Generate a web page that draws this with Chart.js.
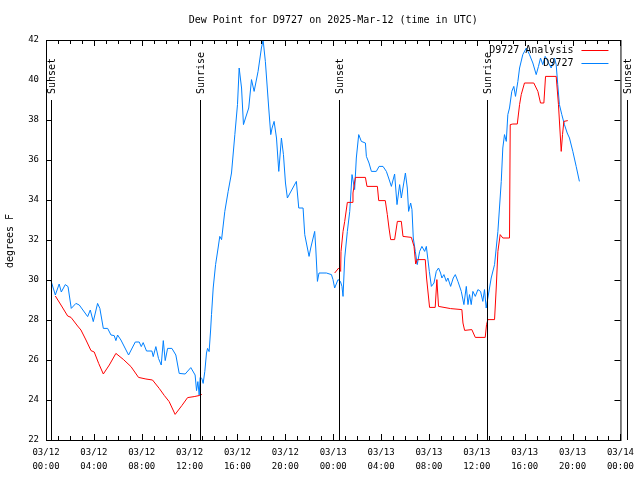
<!DOCTYPE html>
<html>
<head>
<meta charset="utf-8">
<script src="https://cdn.jsdelivr.net/npm/chart.js@4.4.1/dist/chart.umd.min.js"></script>
<style>
  html, body { margin: 0; padding: 0; background: #fff; }
  canvas { display: block; }
</style>
</head>
<body>
<canvas id="dewChart" width="640" height="480"></canvas>
<script>
'use strict';

// ===== DATA (hours since 03/12 00:00 UTC, degrees F) =====
const TITLE = 'Dew Point for D9727 on 2025-Mar-12 (time in UTC)';

const analysisHours = [
  0.78, 1.25, 1.81, 2.09, 2.64, 2.92, 3.34, 3.76, 4.03, 4.4, 4.79, 5.29, 5.84, 6.46,
  7.1, 7.73, 8.35, 8.9, 9.46, 9.88, 10.29, 10.79, 11.35, 11.83, 12.38, 12.85, 13.02,
  18,
  24.12, 24.46, 24.62, 24.65, 24.82, 24.96, 25.18, 25.57, 25.65, 25.85, 26.69, 26.82,
  27.69, 27.8, 28.35, 28.52, 28.66, 28.8, 29.13, 29.36, 29.69, 29.83, 30.53, 30.75,
  30.89, 31.02, 31.69, 31.8, 32.05, 32.52, 32.66, 32.8, 33.81, 34.75, 34.84, 34.98,
  35.58, 35.87, 36.7, 36.81, 36.92, 37.48, 37.62, 37.76, 37.95, 38.17, 38.73, 38.79,
  39.01, 39.38, 39.57, 39.71, 39.98, 40.76, 41.1, 41.32, 41.6, 41.74, 42.63, 42.82,
  43.05, 43.16, 43.27, 43.6
];
const analysisValues = [
  29.2, 28.75, 28.2, 28.13, 27.7, 27.5, 27.0, 26.47, 26.4, 25.83, 25.3, 25.75, 26.33, 26.03,
  25.67, 25.13, 25.05, 25.0, 24.58, 24.23, 23.92, 23.28, 23.72, 24.12, 24.17, 24.23, 24.28,
  null,
  30.35, 30.6, 30.43, 31.43, 32.43, 32.93, 33.88, 33.88, 34.35, 35.13, 35.13, 34.68,
  34.68, 33.97, 33.97, 33.27, 32.6, 32.02, 32.02, 32.93, 32.93, 32.18, 32.13, 31.68,
  30.8, 31.02, 31.02, 30.1, 28.63, 28.63, 30.02, 28.68, 28.57, 28.52, 27.85, 27.48,
  27.52, 27.13, 27.13, 27.77, 28.02, 28.02, 29.6, 31.43, 32.27, 32.1, 32.1, 37.77,
  37.8, 37.8, 38.77, 39.27, 39.85, 39.85, 39.43, 38.85, 38.85, 40.18, 40.18, 38.77,
  36.43, 37.27, 37.93, 37.97
];

const stationHours = [
  0.4, 0.78, 1.1, 1.28, 1.61, 1.84, 2.11, 2.5, 2.78, 3.48, 3.7, 3.95, 4.31, 4.5, 4.79,
  5.15, 5.43, 5.7, 5.84, 5.98, 6.26, 6.9, 7.46, 7.79, 7.96, 8.12, 8.4, 8.85, 8.96, 9.18,
  9.4, 9.63, 9.8, 9.96, 10.16, 10.52, 10.85, 11.13, 11.63, 12.1, 12.46, 12.58, 12.69,
  12.8, 12.88, 13.02, 13.13, 13.27, 13.41, 13.5, 13.63, 13.75, 13.83, 13.97, 14.17,
  14.38, 14.52, 14.67, 14.94, 15.22, 15.5, 15.78, 16.0, 16.14, 16.34, 16.5, 16.67,
  16.94, 17.17, 17.39, 17.72, 18.0, 18.14, 18.33, 18.61, 18.78, 18.89, 19.06, 19.26,
  19.45, 19.67, 19.84, 20.01, 20.17, 20.92, 21.12, 21.48, 21.62, 21.98, 22.12, 22.45,
  22.54, 22.68, 22.81, 23.43, 23.85, 23.98, 24.12, 24.4, 24.6, 24.73, 24.82, 24.96,
  25.18, 25.38, 25.57, 25.79, 25.93, 26.13, 26.35, 26.69, 26.77, 26.99, 27.19, 27.6,
  27.83, 28.16, 28.44, 28.63, 28.86, 29.13, 29.33, 29.55, 29.69, 30.03, 30.19, 30.3,
  30.47, 30.58, 30.69, 30.86, 31.02, 31.22, 31.41, 31.64, 31.78, 31.91, 32.03, 32.2,
  32.42, 32.61, 32.8, 32.97, 33.08, 33.25, 33.45, 33.58, 33.81, 34.03, 34.2, 34.42,
  34.7, 34.92, 35.12, 35.26, 35.39, 35.53, 35.67, 35.87, 36.09, 36.31, 36.5, 36.64,
  36.78, 36.92, 37.2, 37.48, 37.76, 38.04, 38.17, 38.31, 38.46, 38.59, 38.73, 38.92,
  39.09, 39.23, 39.43, 39.57, 39.84, 40.13, 40.4, 40.68, 40.96, 41.15, 41.32, 41.51,
  41.71, 41.93, 42.21, 42.49, 42.63, 42.76, 42.9, 43.1, 43.32, 43.55, 43.74, 44.02,
  44.3, 44.57
];
const stationValues = [
  30.0, 29.25, 29.8, 29.4, 29.77, 29.67, 28.58, 28.83, 28.75, 28.17, 28.5, 27.92, 28.83, 28.58, 27.58,
  27.58, 27.25, 27.22, 26.97, 27.25, 27.0, 26.25, 26.9, 26.9, 26.67, 26.87, 26.45, 26.45, 26.17, 26.67,
  26.08, 25.75, 26.97, 25.97, 26.58, 26.58, 26.25, 25.33, 25.3, 25.62, 25.25, 24.47, 24.92,
  24.25, 25.13, 25.08, 24.83, 25.43, 26.35, 26.58, 26.42, 27.45, 28.27, 29.6, 30.77,
  31.6, 32.18, 32.02, 33.43, 34.43, 35.35, 37.27, 38.77, 40.6, 39.6, 37.77, 38.1,
  38.6, 40.02, 39.43, 40.43, 41.6, 42.0, 40.93, 38.6, 37.27, 37.6, 37.93, 37.1,
  35.43, 37.1, 36.27, 34.85, 34.1, 34.93, 33.6, 33.6, 32.27, 31.18, 31.6, 32.43,
  31.6, 29.93, 30.35, 30.35, 30.27, 30.02, 29.6, 30.02, 29.93, 29.68, 29.18, 31.1,
  32.43, 33.43, 35.27, 34.52, 36.1, 37.27, 36.93, 36.85, 36.18, 35.85, 35.43, 35.43,
  35.68, 35.68, 35.43, 35.1, 34.68, 35.3, 33.77, 34.77, 34.1, 35.35, 34.6, 33.43,
  33.85, 33.52, 32.1, 31.43, 30.77, 31.43, 31.68, 31.43, 31.68, 31.02, 30.43, 29.68,
  29.85, 30.43, 30.6, 30.35, 30.1, 30.27, 29.93, 30.1, 29.68, 30.1, 30.27, 29.93,
  29.43, 28.77, 29.68, 28.77, 29.27, 28.77, 29.43, 29.18, 29.52, 29.43, 28.93, 29.52,
  28.6, 29.1, 30.1, 30.77, 32.43, 34.93, 36.6, 37.27, 36.93, 38.27, 38.6, 39.43,
  39.68, 39.18, 39.93, 40.6, 41.27, 41.6, 41.27, 40.85, 40.27, 40.68, 41.1, 40.77,
  41.18, 40.93, 40.6, 41.1, 40.77, 39.77, 38.77, 38.27, 37.77, 37.35, 37.1, 36.43,
  35.68, 34.93
];

const sunHours = [0.42, 12.85, 24.48, 36.84, 48.52];
const sunLabels = ['Sunset', 'Sunrise', 'Sunset', 'Sunrise', 'Sunset'];

const seriesNames = ['D9727 Analysis', 'D9727'];
const seriesColors = ['#ff0000', '#0080ff'];

const dayLabels = ['03/12', '03/13', '03/14'];

// ===== HELPERS =====
const FONT = '"DejaVu Sans Mono", "Liberation Mono", monospace';
const toPoints = (xs, ys) => xs.map((h, i) => ({ x: h, y: ys[i] }));
const pad2 = n => String(n).padStart(2, '0');

// frame, inward ticks, sun markers, title, legend (gnuplot look)
const gnuplotDecor = {
  id: 'gnuplotDecor',
  afterDraw(chart) {
    const { ctx, chartArea: a, scales: { x, y } } = chart;
    ctx.save();
    ctx.strokeStyle = '#000';
    ctx.lineWidth = 1;
    ctx.strokeRect(a.left + 0.5, a.top + 0.5, a.right - a.left, a.bottom - a.top);

    ctx.beginPath();
    for (let h = 0; h <= 48; h++) {
      const px = Math.round(x.getPixelForValue(h)) + 0.5;
      const len = h % 4 === 0 ? 6 : 4;
      ctx.moveTo(px, a.bottom); ctx.lineTo(px, a.bottom - len);
      ctx.moveTo(px, a.top); ctx.lineTo(px, a.top + len);
    }
    for (let v = 22; v <= 42; v += 2) {
      const py = Math.round(y.getPixelForValue(v)) + 0.5;
      ctx.moveTo(a.left, py); ctx.lineTo(a.left + 6, py);
      ctx.moveTo(a.right, py); ctx.lineTo(a.right - 6, py);
    }
    ctx.stroke();

    // sunrise / sunset lines
    ctx.font = '10px ' + FONT;
    ctx.fillStyle = '#000';
    sunHours.forEach((h, i) => {
      const px = Math.round(x.getPixelForValue(h)) + 0.5;
      const top = Math.round(y.getPixelForValue(39));
      ctx.beginPath();
      ctx.moveTo(px, top); ctx.lineTo(px, a.bottom);
      ctx.stroke();
      ctx.save();
      ctx.translate(px + 0.5, top - 6);
      ctx.rotate(-Math.PI / 2);
      ctx.textAlign = 'left';
      ctx.textBaseline = 'middle';
      ctx.fillText(sunLabels[i], 0, 0);
      ctx.restore();
    });

    // title
    ctx.textAlign = 'center';
    ctx.textBaseline = 'middle';
    ctx.fillText(TITLE, (a.left + a.right) / 2, 20);

    // y axis title
    ctx.save();
    ctx.translate(10, 241);
    ctx.rotate(-Math.PI / 2);
    ctx.fillText('degrees F', 0, 0);
    ctx.restore();

    // legend, top right
    ctx.textAlign = 'right';
    seriesNames.forEach((name, i) => {
      const ly = 50 + i * 13;
      ctx.fillStyle = '#000';
      ctx.fillText(name, a.right - 47, ly);
      ctx.strokeStyle = seriesColors[i];
      ctx.beginPath();
      ctx.moveTo(a.right - 39, ly + 0.5);
      ctx.lineTo(a.right - 12, ly + 0.5);
      ctx.stroke();
    });
    ctx.restore();
  }
};

// ===== CHART =====
const chart = new Chart(document.getElementById('dewChart'), {
  type: 'line',
  data: {
    datasets: [
      {
        label: seriesNames[0],
        data: toPoints(analysisHours, analysisValues),
        borderColor: seriesColors[0],
        borderWidth: 1,
        pointRadius: 0,
        tension: 0,
        spanGaps: false
      },
      {
        label: seriesNames[1],
        data: toPoints(stationHours, stationValues),
        borderColor: seriesColors[1],
        borderWidth: 1,
        pointRadius: 0,
        tension: 0
      }
    ]
  },
  options: {
    responsive: false,
    devicePixelRatio: 1,
    animation: false,
    layout: { padding: { top: 40, right: 19, left: 0, bottom: 0 } },
    plugins: { legend: { display: false }, tooltip: { enabled: false } },
    scales: {
      x: {
        type: 'linear',
        min: 0,
        max: 48,
        afterFit: s => { s.height = 40; },
        grid: { display: false, drawTicks: false },
        border: { display: false },
        ticks: {
          stepSize: 4,
          maxRotation: 0,
          autoSkip: false,
          padding: 6,
          color: '#000',
          font: { family: FONT, size: 9, lineHeight: 1.55 },
          callback: v => [dayLabels[Math.floor(v / 24)], pad2(v % 24) + ':00']
        }
      },
      y: {
        min: 22,
        max: 42,
        afterFit: s => { s.width = 46; },
        grid: { display: false, drawTicks: false },
        border: { display: false },
        ticks: {
          stepSize: 2,
          padding: 7,
          color: '#000',
          font: { family: FONT, size: 9 }
        }
      }
    }
  },
  plugins: [gnuplotDecor]
});
</script>
</body>
</html>
